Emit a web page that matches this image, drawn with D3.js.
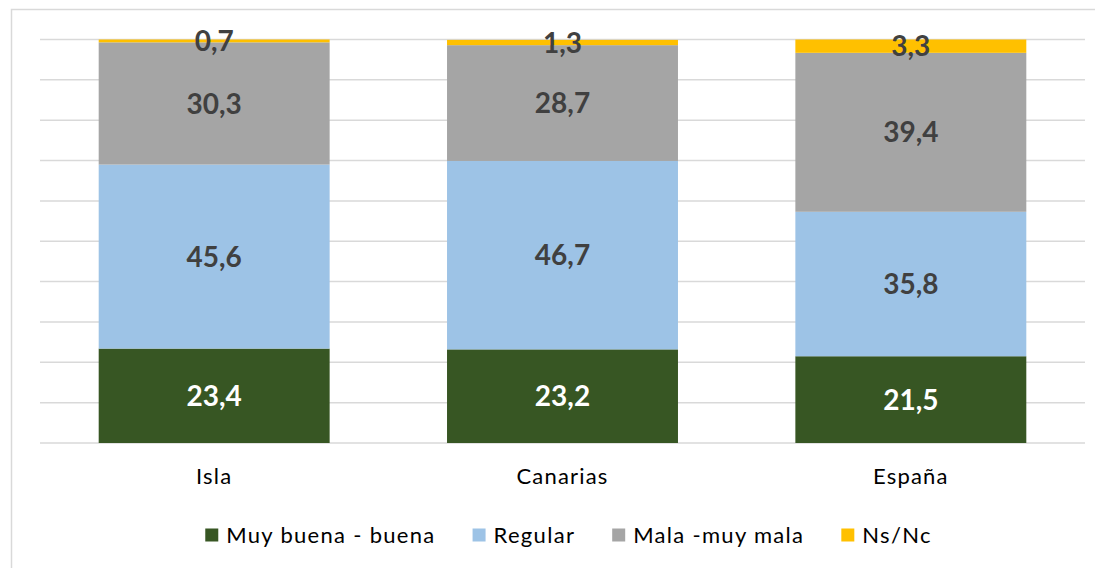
<!DOCTYPE html>
<html>
<head>
<meta charset="utf-8">
<script src="https://cdn.jsdelivr.net/npm/d3@7"></script>
<style>
  body { margin: 0; background: #fff; }
  svg { display: block; font-family: Lato, "Open Sans", sans-serif; }
</style>
</head>
<body>
<svg id="chart"></svg>
<script>
// data
var categories = ["Isla", "Canarias", "España"]
var seriesNames = ["Muy buena - buena", "Regular", "Mala -muy mala", "Ns/Nc"]
var seriesColors = ["#375623", "#9dc3e6", "#a5a5a5", "#ffc000"]
var labelColors = ["#ffffff", "#404040", "#404040", "#404040"]
var muyBuena = [23.4, 23.2, 21.5]
var regular = [45.6, 46.7, 35.8]
var mala = [30.3, 28.7, 39.4]
var nsnc = [0.7, 1.3, 3.3]
var yTicks = [0, 10, 20, 30, 40, 50, 60, 70, 80, 90, 100]

var dimensions = {
    width: 1095,
    height: 568,
    margin: { top: 39.5, bottom: 125, right: 10, left: 40 }
}

var svg = d3.select("#chart")
    .attr("width", dimensions.width)
    .attr("height", dimensions.height)

// outer chart border
svg.append("rect")
    .attr("x", 11.5).attr("y", 9.5)
    .attr("width", dimensions.width).attr("height", dimensions.height)
    .attr("fill", "none")
    .attr("stroke", "#d9d9d9")
    .attr("stroke-width", 1.5)

var table = categories.map(function(c, i){
    return { cat: c, s0: muyBuena[i], s1: regular[i], s2: mala[i], s3: nsnc[i] }
})
var keys = ["s0", "s1", "s2", "s3"]
var stacked = d3.stack().keys(keys)(table)

var xScale = d3.scaleBand()
    .domain(categories)
    .range([dimensions.margin.left, dimensions.width - dimensions.margin.right])
    .paddingInner(0.337)
    .paddingOuter(0.1685)

var yScale = d3.scaleLinear()
    .domain([0, 100])
    .range([dimensions.height - dimensions.margin.bottom, dimensions.margin.top])

// gridlines
svg.append("g")
    .selectAll("line")
    .data(yTicks)
    .enter()
    .append("line")
    .attr("x1", dimensions.margin.left)
    .attr("x2", dimensions.width - dimensions.margin.right)
    .attr("y1", d => yScale(d))
    .attr("y2", d => yScale(d))
    .attr("stroke", "#d9d9d9")
    .attr("stroke-width", 1.5)

// bars
var layers = svg.append("g")
    .selectAll("g")
    .data(stacked)
    .enter()
    .append("g")
    .attr("fill", (d, i) => seriesColors[i])

layers.selectAll("rect")
    .data(d => d)
    .enter()
    .append("rect")
    .attr("x", d => xScale(d.data.cat))
    .attr("width", xScale.bandwidth())
    .attr("y", d => yScale(d[1]))
    .attr("height", d => yScale(d[0]) - yScale(d[1]))

// value labels
stacked.forEach(function(layer, i){
    svg.append("g")
        .selectAll("text")
        .data(layer)
        .enter()
        .append("text")
        .attr("x", d => xScale(d.data.cat) + xScale.bandwidth() / 2)
        .attr("y", d => (yScale(d[0]) + yScale(d[1])) / 2)
        .attr("dy", "0.36em")
        .attr("text-anchor", "middle")
        .attr("fill", labelColors[i])
        .style("font-size", "28px")
        .style("font-weight", "bold")
        .text(d => d3.format(".1f")(d[1] - d[0]).replace(".", ","))
})

// category axis labels
var xAxis = svg.append("g")
    .attr("transform", "translate(0," + (dimensions.height - dimensions.margin.bottom) + ")")
    .call(d3.axisBottom(xScale).tickSize(0).tickPadding(25))
xAxis.select(".domain").remove()
xAxis.selectAll("text")
    .attr("fill", "#000")
    .style("font-family", "Lato, sans-serif")
    .style("font-size", "22px")
    .style("letter-spacing", "1.2px")

// legend
var legend = svg.append("g").attr("transform", "translate(0,535)")
var items = legend.selectAll("g")
    .data(seriesNames)
    .enter()
    .append("g")
items.append("rect")
    .attr("width", 13).attr("height", 13)
    .attr("y", -6.5)
    .attr("fill", (d, i) => seriesColors[i])
items.append("text")
    .attr("x", 21)
    .attr("dy", "0.36em")
    .attr("fill", "#000")
    .style("font-size", "22px")
    .style("letter-spacing", "1.3px")
    .text(d => d)

var gap = 37
var offsets = []
var total = 0
items.each(function(){
    var w = this.getBBox().width
    offsets.push(total)
    total += w + gap
})
total -= gap
var startX = 568.5 - total / 2
items.attr("transform", (d, i) => "translate(" + (startX + offsets[i]) + ",0)")
</script>
</body>
</html>
